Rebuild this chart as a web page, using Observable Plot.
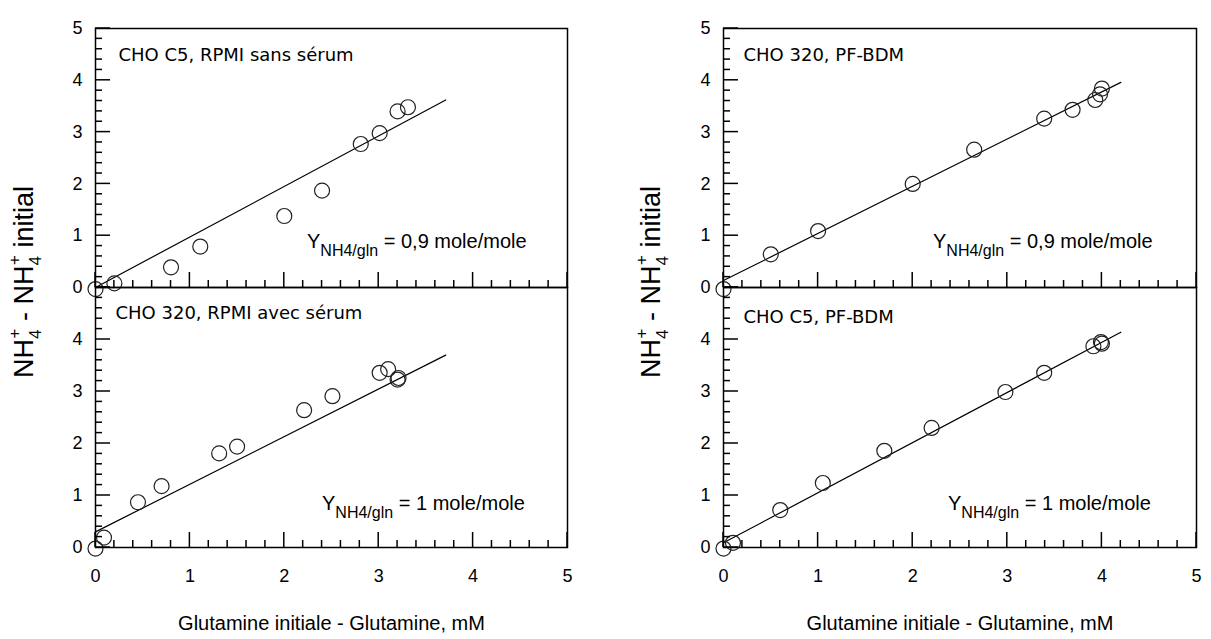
<!DOCTYPE html>
<html><head><meta charset="utf-8">
<script src="https://cdn.jsdelivr.net/npm/d3@7"></script>
<script src="https://cdn.jsdelivr.net/npm/@observablehq/plot@0.6"></script>
<style>
body{margin:0;background:#fff;}
#fig{position:relative;width:1211px;height:639px;overflow:hidden;background:#fff;}
#fig > svg{position:absolute;}
</style></head><body><div id="fig"></div>
<script>
// ---- data ----
const majorTicks = [0, 1, 2, 3, 4, 5];
const minorTicks = [0.2,0.4,0.6,0.8,1.2,1.4,1.6,1.8,2.2,2.4,2.6,2.8,3.2,3.4,3.6,3.8,4.2,4.4,4.6,4.8];
const xTickLabels = [0, 1, 2, 3, 4, 5];
const yTickLabelsTop = [0, 1, 2, 3, 4, 5];
const yTickLabelsBottom = [0, 1, 2, 3, 4];
const panelTitles = ["CHO C5, RPMI sans sérum", "CHO 320, RPMI avec sérum", "CHO 320, PF-BDM", "CHO C5, PF-BDM"];
const yieldValues = ["0,9", "1", "0,9", "1"];
const xTitle = "Glutamine initiale - Glutamine, mM";

// Panel A : CHO C5, RPMI sans sérum
const aX = [0, 0.2, 0.8, 1.11, 2.0, 2.4, 2.81, 3.01, 3.2, 3.31];
const aY = [-0.03, 0.08, 0.39, 0.79, 1.38, 1.87, 2.77, 2.98, 3.40, 3.48];
const aFitX = [0, 3.71];
const aFitY = [0, 3.62];
// Panel B : CHO 320, RPMI avec sérum
const bX = [0, 0.09, 0.45, 0.70, 1.31, 1.50, 2.21, 2.51, 3.01, 3.10, 3.20, 3.21];
const bY = [-0.02, 0.19, 0.87, 1.18, 1.81, 1.94, 2.64, 2.91, 3.36, 3.43, 3.23, 3.26];
const bFitX = [0, 3.71];
const bFitY = [0.3, 3.70];
// Panel C : CHO 320, PF-BDM
const cX = [0, 0.50, 1.00, 2.00, 2.65, 3.39, 3.69, 3.93, 3.98, 4.00];
const cY = [-0.03, 0.64, 1.09, 2.00, 2.66, 3.26, 3.43, 3.62, 3.73, 3.84];
const cFitX = [0, 4.2];
const cFitY = [0.135, 3.96];
// Panel D : CHO C5, PF-BDM
const dX = [0, 0.10, 0.60, 1.05, 1.70, 2.20, 2.98, 3.39, 3.91, 3.99, 4.00];
const dY = [-0.02, 0.09, 0.72, 1.24, 1.86, 2.30, 2.99, 3.36, 3.87, 3.95, 3.92];
const dFitX = [0, 4.2];
const dFitY = [0.09, 4.14];

// ---- drawing ----
const fig = document.getElementById("fig");
const AX = 1.5;
const fmt = d => String(d);
const panels = [];

function panel(o) {
  const pts = o.xs.map((x, i) => ({x, y: o.ys[i]}));
  const fit = o.fx.map((x, i) => ({x, y: o.fy[i]}));
  const marks = [
    Plot.axisY({ticks: o.yLabels, tickSize: 0, tickPadding: 13, tickFormat: fmt, label: null, fontSize: 18}),
    Plot.frame({stroke: "#000", strokeWidth: AX}),
    Plot.line(fit, {x: "x", y: "y", stroke: "#000", strokeWidth: 1.2}),
    Plot.dot(pts, {x: "x", y: "y", r: 7.5, stroke: "#222", strokeWidth: 1.2, fill: "none"}),
    Plot.text([o.title], {frameAnchor: "top-left", dx: o.tdx, dy: o.tdy, textAnchor: "start", lineAnchor: "middle",
      fontFamily: "DejaVu Sans, Verdana, sans-serif", fontSize: 18, fill: "#000"})
  ];
  if (o.bottom) {
    marks.push(Plot.axisX({ticks: xTickLabels, tickSize: 0, tickPadding: 22, tickFormat: fmt, label: null, fontSize: 18}));
    marks.push(Plot.text([xTitle], {frameAnchor: "bottom", dy: 76, lineAnchor: "middle", fontSize: 20, fill: "#000"}));
  } else {
    marks.push(Plot.axisX({ticks: [], label: null}));
  }
  const svg = Plot.plot({
    width: o.w, height: o.h,
    marginLeft: o.ml, marginRight: o.mr, marginTop: o.mt, marginBottom: o.mb,
    x: {domain: [0, 5]}, y: {domain: [0, 5]},
    style: {background: "transparent", overflow: "visible", fontFamily: "Liberation Sans, Arial, sans-serif", fontSize: "18px", color: "#000"},
    marks
  });
  svg.style.position = "absolute";
  svg.style.left = o.left + "px";
  svg.style.top = o.top + "px";
  fig.appendChild(svg);
  panels.push({svg, o});
}

panel({xs: aX, ys: aY, fx: aFitX, fy: aFitY, title: panelTitles[0], yLabels: yTickLabelsTop,
  left: 0, top: 0, w: 600, h: 300, ml: 95, mr: 33, mt: 28, mb: 13, tdx: 23, tdy: 27, bottom: false});
panel({xs: bX, ys: bY, fx: bFitX, fy: bFitY, title: panelTitles[1], yLabels: yTickLabelsBottom,
  left: 0, top: 260, w: 600, h: 379, ml: 95, mr: 33, mt: 27, mb: 92, tdx: 20, tdy: 26, bottom: true});
panel({xs: cX, ys: cY, fx: cFitX, fy: cFitY, title: panelTitles[2], yLabels: yTickLabelsTop,
  left: 600, top: 0, w: 611, h: 300, ml: 123, mr: 15, mt: 28, mb: 13, tdx: 20, tdy: 27, bottom: false});
panel({xs: dX, ys: dY, fx: dFitX, fy: dFitY, title: panelTitles[3], yLabels: yTickLabelsBottom,
  left: 600, top: 260, w: 611, h: 379, ml: 123, mr: 15, mt: 27, mb: 92, tdx: 20, tdy: 30, bottom: true});

// ---- overlay: inward tick marks (positioned with Plot's own scales) and rich text ----
const ov = d3.select(fig).append("svg")
  .attr("width", 1211).attr("height", 639)
  .style("left", "0px").style("top", "0px").style("pointer-events", "none")
  .attr("font-family", "Liberation Sans, Arial, sans-serif").attr("fill", "#000");

function scaleFn(svg, name, fallbackRange) {
  try {
    const s = svg.scale(name);
    if (s && typeof s.apply === "function") return v => s.apply(v);
    if (s && s.domain && s.range) return d3.scaleLinear(s.domain, s.range);
  } catch (e) {}
  return d3.scaleLinear([0, 5], fallbackRange);
}

const tg = ov.append("g").attr("stroke", "#000").attr("stroke-width", AX);
panels.forEach(({svg, o}) => {
  const sx = scaleFn(svg, "x", [o.ml, o.w - o.mr]);
  const sy = scaleFn(svg, "y", [o.h - o.mb, o.mt]);
  const x0 = o.left + sx(0);
  const y0 = o.top + sy(0);
  const tick = (x1, y1, x2, y2) => tg.append("line").attr("x1", x1).attr("y1", y1).attr("x2", x2).attr("y2", y2);
  minorTicks.forEach(t => tick(o.left + sx(t), y0, o.left + sx(t), y0 - 7));
  majorTicks.forEach(t => tick(o.left + sx(t), y0, o.left + sx(t), y0 - 15));
  minorTicks.forEach(t => tick(x0, o.top + sy(t), x0 + 7, o.top + sy(t)));
  majorTicks.forEach(t => tick(x0, o.top + sy(t), x0 + 15, o.top + sy(t)));
});

const yieldPos = [[307, 248], [322, 510], [933, 248], [948, 510]];
yieldPos.forEach(([x, y], i) => {
  const t = ov.append("text").attr("x", x).attr("y", y).attr("font-size", 20);
  t.append("tspan").text("Y");
  t.append("tspan").attr("font-size", 16).attr("dy", 8).text("NH4/gln");
  t.append("tspan").attr("dy", -8).text(" = " + yieldValues[i] + " mole/mole");
});

function yLabel(bx, cy) {
  const t = ov.append("text").attr("transform", `translate(${bx},${cy}) rotate(-90)`)
    .attr("text-anchor", "middle").attr("font-size", 27);
  t.append("tspan").text("NH");
  t.append("tspan").attr("font-size", 17).attr("dy", 8).text("4");
  t.append("tspan").attr("font-size", 17).attr("dx", -9).attr("dy", -21).text("+");
  t.append("tspan").attr("dy", 13).text(" - NH");
  t.append("tspan").attr("font-size", 17).attr("dy", 8).text("4");
  t.append("tspan").attr("font-size", 17).attr("dx", -9).attr("dy", -21).text("+");
  t.append("tspan").attr("dy", 13).text(" initial");
}
yLabel(33, 282);
yLabel(660, 282);
</script></body></html>
